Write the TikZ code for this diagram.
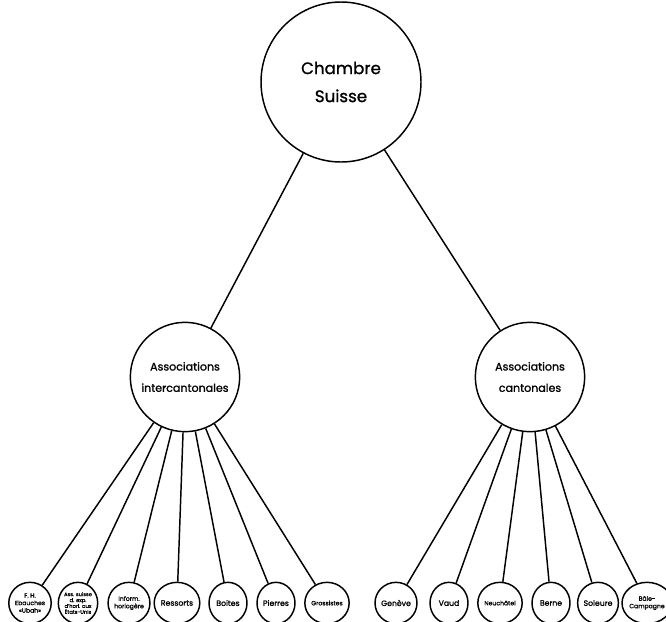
\documentclass[tikz,border=0pt]{standalone}
\usepackage{fontspec}
\setmainfont{Poppins}[FakeBold=1.2]
\usetikzlibrary{shapes.geometric}
\begin{document}
\begin{tikzpicture}[x=0.75pt,y=-0.75pt,line width=1.1pt,
  bigc/.style={draw,circle,inner sep=0pt,minimum size=120pt,align=center,font=\fontsize{12.5}{21}\selectfont},
  midc/.style={draw,circle,inner sep=0pt,minimum size=82pt,align=center,font=\fontsize{8.3}{16}\selectfont},
  leaf/.style={draw,ellipse,inner sep=0pt,minimum width=28.5pt,minimum height=31pt,align=center,font=\fontsize{5.8}{6.4}\selectfont},
  small/.style={font=\fontsize{4.6}{5.6}\selectfont},
  tiny/.style={font=\fontsize{3.9}{4.4}\selectfont}]
\useasboundingbox (0,0) rectangle (666,621);
\node[bigc] (top) at (341,82) {Chambre\\Suisse};
\node[midc] (L) at (185,377) {Associations\\intercantonales};
\node[midc] (R) at (530,377) {Associations\\cantonales};
\node[leaf,small] (l1) at (30,603) {F. H.\\Ebauches\\«Ubah»};
\node[leaf,tiny] (l2) at (78,603) {Ass. suisse\\d. exp.\\d'horl. aux\\États-Unis};
\node[leaf,small] (l3) at (129,603) {Inform.\\horlogère};
\node[leaf] (l4) at (177,603) {Ressorts};
\node[leaf] (l5) at (228,603) {Boites};
\node[leaf] (l6) at (276,603) {Pierres};
\node[leaf,small] (l7) at (327,603) {Grossistes};
\node[leaf] (r1) at (396,603) {Genève};
\node[leaf] (r2) at (449,603) {Vaud};
\node[leaf,small] (r3) at (500,603) {Neuchâtel};
\node[leaf] (r4) at (551,603) {Berne};
\node[leaf] (r5) at (598,603) {Soleure};
\node[leaf,small] (r6) at (647,603) {Bâle-\\Campagne};
\draw (top) -- (L);
\draw (top) -- (R);
\foreach \n in {l1,l2,l3,l4,l5,l6,l7} \draw (L) -- (\n);
\foreach \n in {r1,r2,r3,r4,r5,r6} \draw (R) -- (\n);
\end{tikzpicture}
\end{document}
